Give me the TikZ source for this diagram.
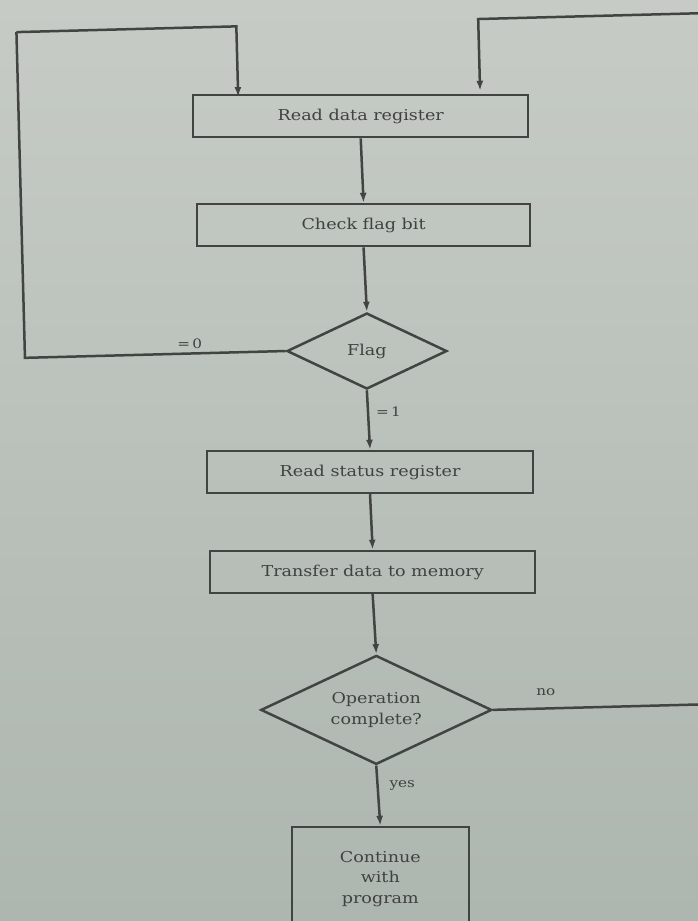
\documentclass[tikz,border=0pt]{standalone}
\usepackage{fontspec}
\setmainfont[FakeStretch=1.17]{DejaVu Serif}
\usetikzlibrary{shapes.geometric,arrows.meta}
\definecolor{paperTop}{RGB}{198,203,197}
\definecolor{paperBot}{RGB}{174,182,176}
\definecolor{ink}{RGB}{66,68,66}
\definecolor{txt}{RGB}{64,66,64}
\tikzset{
  flowline/.style={draw=ink, line width=2.5pt},
  flowarrow/.style={flowline, -{Latex[length=10pt,width=7pt]}},
  procbox/.style={rectangle, draw=ink, line width=2.5pt, minimum height=42pt,
    inner sep=0pt, text=txt, font=\fontsize{15}{20.5}\selectfont, align=center},
  decision/.style={diamond, draw=ink, line width=2.5pt, aspect=2, inner sep=0pt,
    text=txt, font=\fontsize{15}{21}\selectfont, align=center},
  lbl/.style={text=txt, font=\fontsize{13}{15}\selectfont, inner sep=1pt}
}
\begin{document}
\begin{tikzpicture}[x=1pt,y=-1pt]
  \path[use as bounding box] (0,0) rectangle (698,921);
  \clip (0,0) rectangle (698,921);
  \shade[top color=paperTop, bottom color=paperBot] (0,0) rectangle (698,921);

  \begin{scope}[rotate around={1.5:(370,470)}]
    % process steps and decisions
    \node[procbox, minimum width=335pt] (rdr) at (370,116) {Read data register};
    \node[procbox, minimum width=333pt] (cfb) at (370,225) {Check flag bit};
    \node[decision, minimum width=160pt, minimum height=76pt] (flag) at (370,351) {Flag};
    \node[procbox, minimum width=326pt] (rsr) at (370,472) {Read status register};
    \node[procbox, minimum width=325pt] (tdm) at (370,572) {Transfer data to memory};
    \node[decision, minimum width=231pt, minimum height=109pt] (op) at (370,710)
      {Operation\\complete?};
    \node[procbox, minimum width=177pt, minimum height=104pt, anchor=north] (cont)
      at (371,826) {Continue\\with\\program};

    % helper points for the loop connectors
    \coordinate (loopL) at (28,23);
    \coordinate (inL) at (248,0);
    \coordinate (inR) at (490,22);
    \coordinate (edgeR) at (760,22);
    \coordinate (edgeX) at (760,0);

    % main column
    \draw[flowarrow] (rdr.south) -- (cfb.north);
    \draw[flowarrow] (cfb.south) -- (flag.north);
    \draw[flowarrow] (flag.south) -- (rsr.north);
    \draw[flowarrow] (rsr.south) -- (tdm.north);
    \draw[flowarrow] (tdm.south) -- (op.north);
    \draw[flowarrow] (op.south) -- (cont.north);

    % flag = 0 : back to reading the data register
    \draw[flowline] (flag.west) -| (loopL);
    \draw[flowarrow] (loopL) -| (inL |- rdr.north);

    % operation not complete : loop comes back in from the right
    \draw[flowline] (op.east) -- (op.east -| edgeX);
    \draw[flowarrow] (edgeR) -- (inR) -- (inR |- rdr.north);

    % branch labels
    \node[lbl] (l0) at (193,339) {=\,0};
    \node[lbl] (l1) at (390,412) {=\,1};
    \node[lbl] (lno) at (540,697) {no};
    \node[lbl] (lyes) at (394,786) {yes};
  \end{scope}
\end{tikzpicture}
\end{document}
